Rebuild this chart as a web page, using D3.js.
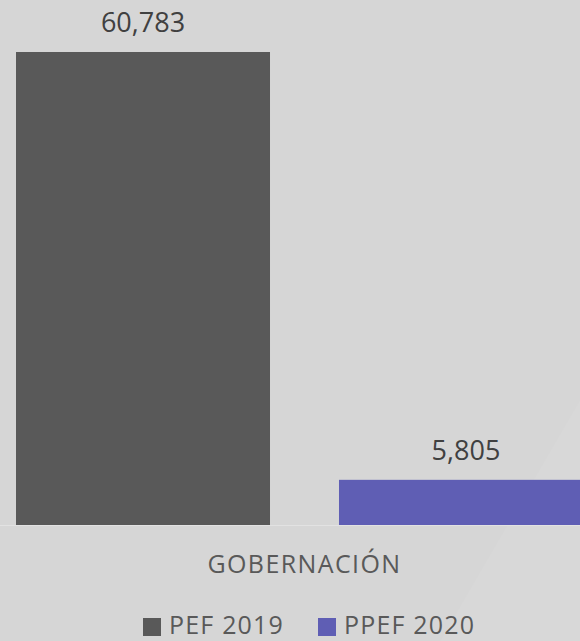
<!doctype html>
<html lang="es">
  <head>
    <meta charset="utf-8">
    <title>Gobernación</title>
    <style>
      html, body { margin: 0; padding: 0; background: #d6d6d6; }
      svg { display: block; font-family: "Open Sans", "DejaVu Sans", sans-serif; }
    </style>
  </head>
  <body>
    <div id="chart"></div>
    <script src="https://d3js.org/d3.v7.min.js"></script>
    <script>
      // datos
      var categoria = "GOBERNACIÓN";
      var series = ["PEF 2019", "PPEF 2020"];
      var valores = [60783, 5805];
      var colores = ["#595959", "#5f5eb4"];

      var w = 580, h = 641;
      var base = 525;

      var svg = d3.select("#chart")
        .append("svg")
        .attr("width", w)
        .attr("height", h);

      svg.append("rect")
        .attr("width", w)
        .attr("height", h)
        .attr("fill", "#d6d6d6");

      // brillo suave de fondo
      svg.append("path")
        .attr("d", "M580,400 L440,641 L580,641 Z")
        .attr("fill", "#ffffff")
        .attr("opacity", 0.05);
      svg.append("path")
        .attr("d", "M330,155 L580,155 L580,450 Z")
        .attr("fill", "#ffffff")
        .attr("opacity", 0.025);

      // escalas (la segunda barra queda cortada a la derecha, como en el original)
      var x = d3.scaleBand()
        .domain(series)
        .range([16, 593])
        .paddingInner(0.2136)
        .paddingOuter(0);

      var y = d3.scaleLinear()
        .domain([0, d3.max(valores)])
        .range([base, 52]);

      var fmt = d3.format(",");

      var g = svg.selectAll("g.barra")
        .data(series)
        .enter()
        .append("g")
        .attr("class", "barra");

      g.append("rect")
        .attr("x", function(d) { return x(d); })
        .attr("y", function(d, i) { return y(valores[i]); })
        .attr("width", x.bandwidth())
        .attr("height", function(d, i) { return base - y(valores[i]); })
        .attr("fill", function(d, i) { return colores[i]; });

      g.append("text")
        .attr("x", function(d) { return x(d) + x.bandwidth() / 2; })
        .attr("y", function(d, i) { return y(valores[i]) - 20; })
        .attr("text-anchor", "middle")
        .attr("fill", "#404040")
        .style("font-size", "27px")
        .text(function(d, i) { return fmt(valores[i]); });

      // eje
      svg.append("line")
        .attr("x1", 0)
        .attr("x2", w)
        .attr("y1", base + 0.5)
        .attr("y2", base + 0.5)
        .attr("stroke", "#e2e2e2")
        .attr("stroke-width", 1);

      svg.append("text")
        .attr("x", (x.range()[0] + x.range()[1]) / 2)
        .attr("y", 573)
        .attr("text-anchor", "middle")
        .attr("fill", "#595959")
        .style("font-size", "25px")
        .style("letter-spacing", "1.4px")
        .text(categoria);

      // leyenda
      var legX = [143, 318];
      var ley = svg.selectAll("g.ley")
        .data(series)
        .enter()
        .append("g")
        .attr("class", "ley")
        .attr("transform", function(d, i) { return "translate(" + legX[i] + ",618)"; });

      ley.append("rect")
        .attr("width", 18)
        .attr("height", 18)
        .attr("fill", function(d, i) { return colores[i]; });

      ley.append("text")
        .attr("x", 26)
        .attr("y", 16)
        .attr("fill", "#595959")
        .style("font-size", "25px")
        .style("letter-spacing", "1.2px")
        .text(function(d) { return d; });
    </script>
  </body>
</html>
